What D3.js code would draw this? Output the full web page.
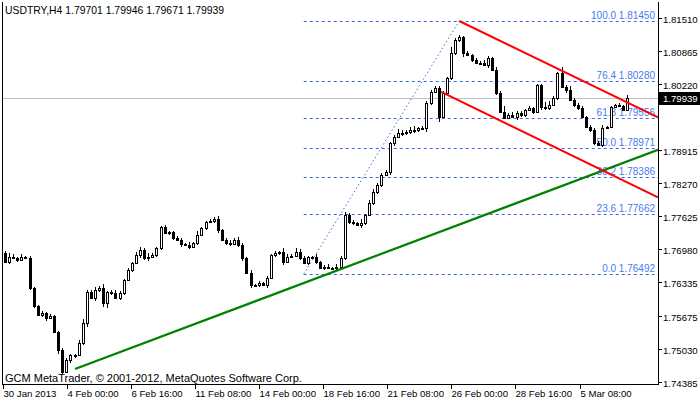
<!DOCTYPE html>
<html><head><meta charset="utf-8">
<script src="https://cdn.jsdelivr.net/npm/d3@7"></script>
<style>body{margin:0;background:#fff}svg{display:block}text{font-family:"Liberation Sans",Arial,sans-serif;font-size:9.6px}</style>
</head><body>
<script>
const firstOpen = 1.7690;
const closes = [1.7673,1.7682,1.7681,1.7677,1.7682,1.7681,1.7622,1.7586,1.7569,1.7573,1.7563,1.7567,1.7535,1.7500,1.7457,1.7481,1.7490,1.7490,1.7514,1.7553,1.7614,1.7602,1.7618,1.7622,1.7592,1.7614,1.7612,1.7602,1.7612,1.7637,1.7657,1.7671,1.7686,1.7696,1.7681,1.7682,1.7686,1.7700,1.7741,1.7730,1.7731,1.7720,1.7716,1.7708,1.7706,1.7702,1.7710,1.7726,1.7739,1.7751,1.7753,1.7757,1.7735,1.7716,1.7710,1.7708,1.7716,1.7706,1.7681,1.7651,1.7628,1.7628,1.7632,1.7628,1.7641,1.7686,1.7690,1.7692,1.7673,1.7682,1.7684,1.7692,1.7681,1.7671,1.7682,1.7682,1.7673,1.7661,1.7663,1.7661,1.7661,1.7663,1.7681,1.7765,1.7751,1.7749,1.7745,1.7749,1.7765,1.7788,1.7810,1.7824,1.7843,1.7849,1.7906,1.7918,1.7926,1.7926,1.7927,1.7931,1.7931,1.7935,1.7935,1.7984,1.8006,1.8014,1.7957,1.8004,1.8033,1.8082,1.8108,1.8114,1.8082,1.8078,1.8069,1.8063,1.8063,1.8059,1.8073,1.8049,1.8004,1.7967,1.7955,1.7961,1.7957,1.7965,1.7961,1.7971,1.7975,1.7967,1.8020,1.7976,1.7975,1.7980,1.7994,1.8043,1.8016,1.8010,1.7990,1.7980,1.7975,1.7957,1.7937,1.7931,1.7906,1.7902,1.7935,1.7937,1.7976,1.7980,1.7978,1.7971,1.79939];
// wick extents in units of 0.0002 (estimated per candle)
const wickUp = "2431312112121122113422324123212133242112112213141122312323213121212143243211312313232214133222124323412222221622121223213262322121115421624222122231112134";
const wickDn = "1212112212311421331241324521221213231221221312121212312212313121312231112121212112222213212221331322321421511222412121312111132212132212131221122121111113";

const yTicks = [1.81510,1.80865,1.80220,1.78915,1.78270,1.77625,1.76980,1.76335,1.75675,1.75030,1.74385];
const xTickIdx = [0.5,16.2,31.8,47.5,63.1,78.8,94.4,110.1,125.7,141.4];
const xTickLabels = ["30 Jan 2013","4 Feb 00:00","6 Feb 16:00","11 Feb 08:00","14 Feb 00:00","18 Feb 16:00","21 Feb 08:00","26 Feb 00:00","28 Feb 16:00","5 Mar 08:00"];
const fibLevels = ["0.0","23.6","38.2","50.0","61.8","76.4","100.0"];
const fibPrices = [1.76492,1.77662,1.78386,1.78971,1.79556,1.80280,1.81450];
const fibStart = 74, fibEnd = 112;
const greenLine = [[18.1,1.7463],[160.4,1.7892]];
const redUpper = [[112,1.8145],[160.4,1.7957]];
const redLower = [[107.6,1.8006],[160.4,1.7800]];
const current = 1.79939;
const title = "USDTRY,H4  1.79701 1.79946 1.79671 1.79939";
const copyright = "GCM MetaTrader, © 2001-2012, MetaQuotes Software Corp.";

const W=700,H=402, R=658, B=384;
const svg=d3.select("body").append("svg").attr("width",W).attr("height",H);
const x=d3.scaleLinear().domain([1,153]).range([5,627]);
const y=d3.scaleLinear().domain([1.8145,1.76492]).range([21,274]);
svg.append("defs").append("clipPath").attr("id","c").append("rect").attr("x",2).attr("y",2).attr("width",R-2).attr("height",B-2);
const g=svg.append("g").attr("clip-path","url(#c)");

g.append("line").attr("x1",2).attr("x2",R).attr("y1",Math.round(y(current))+.5).attr("y2",Math.round(y(current))+.5).attr("stroke","#c0c0c0");

const fx1=x(fibStart);
fibPrices.forEach((p,i)=>{
  const yy=Math.round(y(p))+.5;
  g.append("line").attr("x1",fx1).attr("x2",R).attr("y1",yy).attr("y2",yy).attr("stroke","#4169e1").attr("stroke-dasharray","3,3");
  g.append("text").attr("x",655).attr("y",yy-3).attr("text-anchor","end").attr("fill","#4a7bf0").style("font-size","10px").text(fibLevels[i]+" "+p.toFixed(5));
});
g.append("line").attr("x1",x(fibStart)).attr("y1",y(fibPrices[0])).attr("x2",x(fibEnd)).attr("y2",y(fibPrices[6])).attr("stroke","#4169e1").attr("stroke-dasharray","1.5,2.5");

const data=closes.map((c,i)=>{
  const o=i?closes[i-1]:firstOpen;
  return {i:i+1,o,c,h:Math.max(o,c)+(+wickUp[i]||0)*0.0002,l:Math.min(o,c)-(+wickDn[i]||0)*0.0002};
});
data.forEach(d=>{
  const cx=Math.round(x(d.i));
  g.append("line").attr("x1",cx+.5).attr("x2",cx+.5).attr("y1",Math.round(y(d.h))).attr("y2",Math.round(y(d.l))).attr("stroke","#000");
  const t=Math.round(y(Math.max(d.o,d.c))), b=Math.max(Math.round(y(Math.min(d.o,d.c))),t+1);
  g.append("rect").attr("x",cx-1+.5).attr("y",t+.5).attr("width",2).attr("height",b-t).attr("fill",d.c>=d.o?"#fff":"#000").attr("stroke","#000");
});

function ext(seg,color,w){
  const [[i1,p1],[i2,p2]]=seg; const s=(p2-p1)/(i2-i1); const iEnd=x.invert(R);
  g.append("line").attr("x1",x(i1)).attr("y1",y(p1)).attr("x2",x(iEnd)).attr("y2",y(p1+s*(iEnd-i1))).attr("stroke",color).attr("stroke-width",w);
}
ext(greenLine,"#008000",2.2); ext(redUpper,"#ff0000",2); ext(redLower,"#ff0000",2);

svg.append("line").attr("x1",2.5).attr("x2",2.5).attr("y1",2).attr("y2",B).attr("stroke","#000");
svg.append("line").attr("x1",R+.5).attr("x2",R+.5).attr("y1",2).attr("y2",B+1).attr("stroke","#000");
svg.append("line").attr("x1",2).attr("x2",R+1).attr("y1",B+.5).attr("y2",B+.5).attr("stroke","#000");
yTicks.forEach(p=>{
  const yy=Math.round(y(p))+.5;
  svg.append("line").attr("x1",R).attr("x2",R+4).attr("y1",yy).attr("y2",yy).attr("stroke","#000");
  svg.append("text").attr("x",663).attr("y",yy+4).text(p.toFixed(5));
});
xTickIdx.forEach((ix,k)=>{
  const xx=Math.round(x(ix))+.5;
  svg.append("line").attr("x1",xx).attr("x2",xx).attr("y1",B).attr("y2",B+5).attr("stroke","#000");
  svg.append("text").attr("x",xx).attr("y",397).text(xTickLabels[k]);
});
const cy=Math.round(y(current));
svg.append("rect").attr("x",R+1).attr("y",cy-6).attr("width",41).attr("height",13).attr("fill","#000");
svg.append("text").attr("x",663).attr("y",cy+4).attr("fill","#fff").text(current.toFixed(5));
svg.append("text").attr("x",5).attr("y",14).style("font-size","10.4px").text(title);
svg.append("text").attr("x",5).attr("y",382).style("font-size","11px").text(copyright);
</script>
</body></html>
